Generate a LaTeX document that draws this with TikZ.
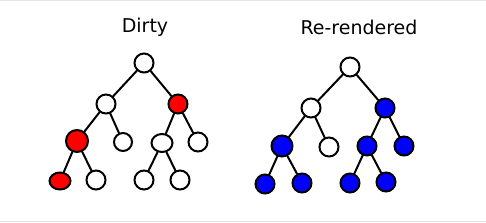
\documentclass[tikz,border=0pt]{standalone}
\usepackage{fontspec}
\setmainfont{DejaVu Sans}
\usetikzlibrary{shapes.geometric}
\begin{document}
\begin{tikzpicture}[x=1pt,y=-1pt,
  nd/.style={draw=black,line width=2pt,circle,minimum size=19pt,inner sep=0pt,fill=white},
  rnode/.style={nd,fill=red},
  bnode/.style={nd,fill=blue},
  edge/.style={line width=2pt,line cap=round},
  ttl/.style={font=\fontsize{19}{19}\selectfont}]
\useasboundingbox (0,0) rectangle (486,222);
\fill[white] (0,0) rectangle (486,222);
\draw[gray!20,line width=1.2pt] (0,0.6) -- (486,0.6);
\draw[gray!20,line width=1.2pt] (0,221.4) -- (486,221.4);
% left tree
\node[ttl] (t1) at (145,27) {Dirty};
\node[nd] (a) at (144,63) {};
\node[nd] (b) at (106,104) {};
\node[rnode] (c) at (178,104) {};
\node[rnode,minimum size=22pt] (d) at (77,141) {};
\node[nd,minimum size=18pt] (e) at (123,142) {};
\node[nd,ellipse,minimum width=21pt,minimum height=18pt] (f) at (162,143) {};
\node[nd] (g) at (198,142) {};
\node[rnode,ellipse,minimum width=21pt,minimum height=17pt] (h) at (60,181) {};
\node[nd] (i) at (96,180) {};
\node[nd] (j) at (144,180) {};
\node[nd] (k) at (180,180) {};
\foreach \u/\v in {a/b,a/c,b/d,b/e,c/f,c/g,d/h,d/i,f/j,f/k} \draw[edge] (\u) -- (\v);
% right tree
\node[ttl] (t2) at (359,27) {Re-rendered};
\node[nd] (A) at (350,67) {};
\node[nd] (B) at (311,108) {};
\node[bnode] (C) at (385,108) {};
\node[bnode,minimum size=21pt] (D) at (282,146) {};
\node[nd] (E) at (329,147) {};
\node[bnode] (F) at (367,146) {};
\node[bnode] (G) at (404,146) {};
\node[bnode] (H) at (265,184) {};
\node[bnode] (I) at (302,183) {};
\node[bnode] (J) at (350,183) {};
\node[bnode] (K) at (386,182) {};
\foreach \u/\v in {A/B,A/C,B/D,B/E,C/F,C/G,D/H,D/I,F/J,F/K} \draw[edge] (\u) -- (\v);
\end{tikzpicture}
\end{document}
